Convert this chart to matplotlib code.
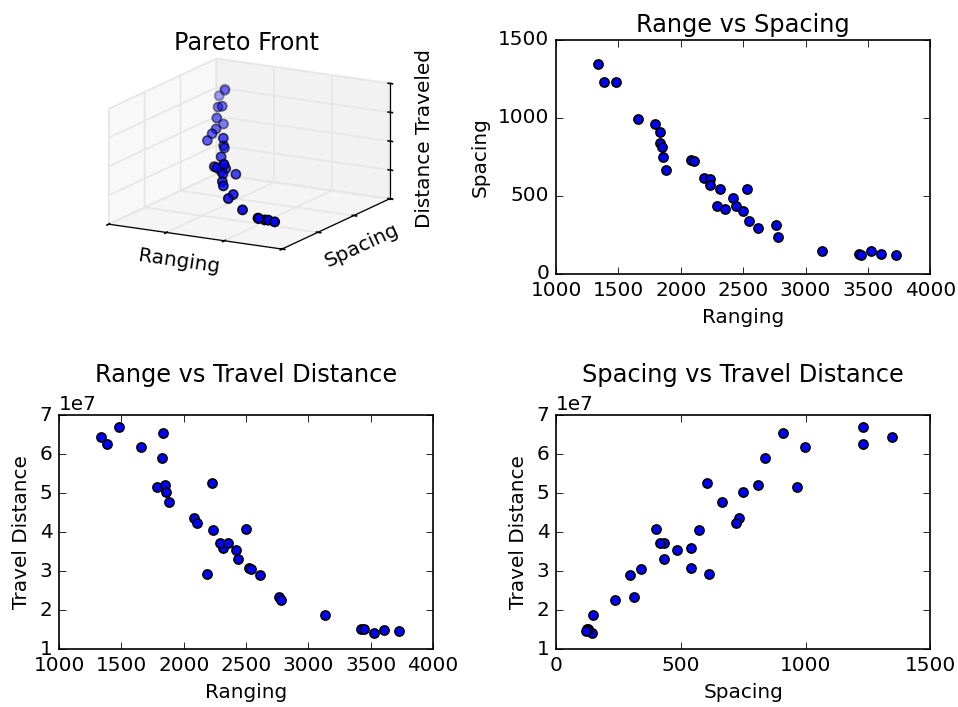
import matplotlib
matplotlib.use('Agg')
import matplotlib.pyplot as plt
from matplotlib.ticker import MultipleLocator

plt.style.use('classic')

# values (one entry per Pareto point)
ranging = [1337, 1385, 1484, 1655, 1789, 1832, 1829, 1850, 1856, 1880,
           2080, 2107, 2187, 2230, 2235, 2318, 2289, 2356, 2422, 2439,
           2527, 2497, 2543, 2615, 2765, 2778, 3131, 3425, 3444, 3524,
           3604, 3725]
spacing = [1348, 1229, 1229, 996, 964, 911, 838, 811, 751, 666,
           732, 721, 612, 606, 572, 542, 433, 416, 486, 433,
           542, 401, 341, 297, 314, 235, 149, 128, 122, 145,
           128, 119]
travel = [6.43, 6.27, 6.70, 6.18, 5.16, 6.54, 5.89, 5.21, 5.02, 4.76,
          4.37, 4.24, 2.93, 5.26, 4.05, 3.60, 3.72, 3.72, 3.54, 3.31,
          3.08, 4.08, 3.05, 2.89, 2.34, 2.25, 1.87, 1.52, 1.51, 1.41,
          1.48, 1.45]
travel = [t * 1e7 for t in travel]

fig = plt.figure(figsize=(958 / 120, 707 / 120), dpi=120, facecolor='white')
fig.subplots_adjust(left=0.0616, right=0.971, top=0.9435, bottom=0.082,
                    wspace=0.329, hspace=0.603)

# 3D pareto front
ax1 = fig.add_subplot(2, 2, 1, projection='3d')
ax1.scatter(ranging, spacing, travel, c='b', s=30)
ax1.set_proj_type('ortho')
ax1.view_init(elev=15, azim=-61)
ax1.set_box_aspect((1.74, 1.95, 1.05), zoom=1.33)
ax1.set_xlim(1000, 4000)
ax1.set_ylim(0, 1500)
ax1.set_zlim(0, 8e7)
ax1.set_xticks([1000, 2000, 3000, 4000])
ax1.set_yticks([0, 500, 1000, 1500])
ax1.set_zticks([0, 2e7, 4e7, 6e7, 8e7])
ax1.set_xticklabels([])
ax1.set_yticklabels([])
ax1.set_zticklabels([])
ax1.set_title('Pareto Front')
ax1.set_xlabel('Ranging', labelpad=-10)
ax1.set_ylabel('Spacing', labelpad=-10)
fig.text(424 / 958, 1 - 139 / 707, 'Distance Traveled',
         rotation=90, ha='center', va='center', fontsize=12)

ax2 = fig.add_subplot(2, 2, 2)
ax2.scatter(ranging, spacing, c='b', s=30)
ax2.set_title('Range vs Spacing')
ax2.set_xlabel('Ranging')
ax2.set_ylabel('Spacing')
ax2.set_xlim(1000, 4000)
ax2.set_ylim(0, 1500)
ax2.xaxis.set_major_locator(MultipleLocator(500))
ax2.yaxis.set_major_locator(MultipleLocator(500))

ax3 = fig.add_subplot(2, 2, 3)
ax3.scatter(ranging, travel, c='b', s=30)
ax3.set_title('Range vs Travel Distance', pad=20)
ax3.set_xlabel('Ranging')
ax3.set_ylabel('Travel Distance')
ax3.set_xlim(1000, 4000)
ax3.set_ylim(1e7, 7e7)
ax3.xaxis.set_major_locator(MultipleLocator(500))

ax4 = fig.add_subplot(2, 2, 4)
ax4.scatter(spacing, travel, c='b', s=30)
ax4.set_title('Spacing vs Travel Distance', pad=20)
ax4.set_xlabel('Spacing')
ax4.set_ylabel('Travel Distance')
ax4.set_xlim(0, 1500)
ax4.set_ylim(1e7, 7e7)
ax4.xaxis.set_major_locator(MultipleLocator(500))

fig.savefig('out.png', dpi=120, facecolor='white')
